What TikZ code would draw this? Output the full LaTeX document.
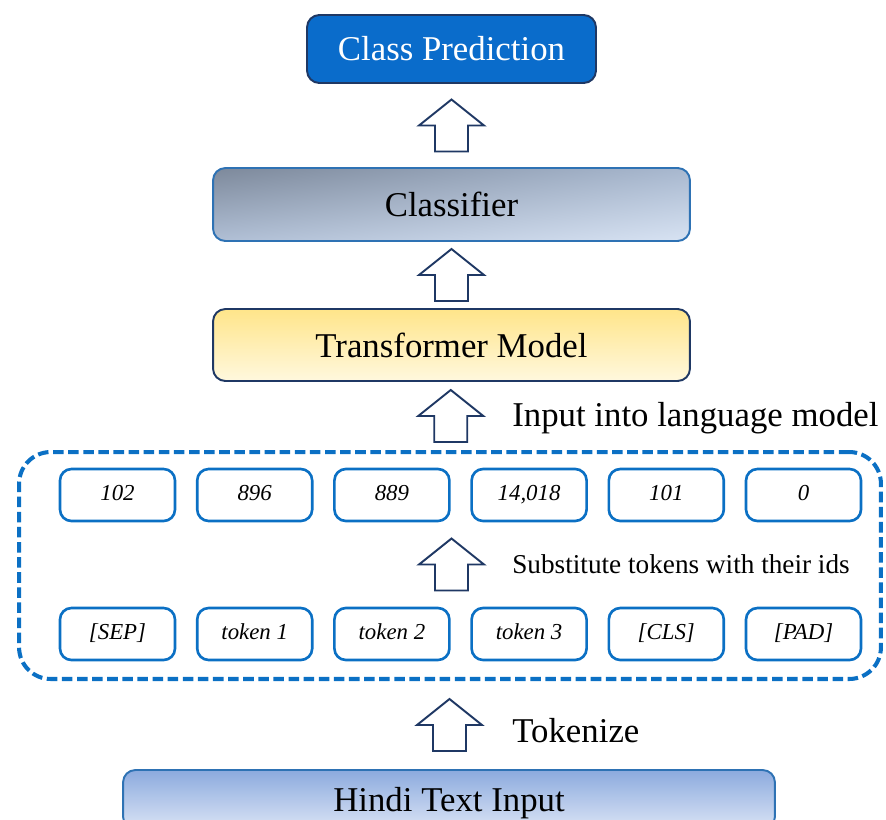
\documentclass[tikz,border=0pt]{standalone}
\usepackage{fontspec}
\setmainfont{Liberation Serif}
\usetikzlibrary{calc, shadings}
\definecolor{navy}{HTML}{1F3864}
\definecolor{predblue}{HTML}{0A6CCB}
\definecolor{edgeblue}{HTML}{2E72B4}
\definecolor{boxblue}{HTML}{0B70C4}
\definecolor{clsUL}{RGB}{125,137,155}
\definecolor{clsUR}{RGB}{168,184,207}
\definecolor{clsLL}{RGB}{176,191,213}
\definecolor{clsLR}{RGB}{216,227,243}
\definecolor{tfTop}{RGB}{255,229,138}
\definecolor{tfBot}{RGB}{255,248,222}
\definecolor{hinTop}{RGB}{140,170,222}
\definecolor{hinBot}{RGB}{218,228,245}

\begin{document}
\begin{tikzpicture}[x=0.02cm, y=-0.02cm,
  bigbox/.style={rectangle, rounded corners=7pt, line width=1.1pt,
    minimum width=9.54cm, minimum height=1.46cm,
    font=\fontsize{19.8}{23}\selectfont},
  idbox/.style={rectangle, draw=boxblue, fill=white, rounded corners=6.5pt,
    line width=1.5pt, minimum width=2.3cm, minimum height=1.04cm,
    text height=0.8em, text depth=0.15em,
    font=\fontsize{13}{15}\selectfont\itshape},
  steptext/.style={anchor=base west, inner sep=0pt},
  uparrow/.pic={\draw[navy, line width=1.1pt, fill=white, line join=miter]
    (-16.5,26) -- (-16.5,0) -- (-32.5,0) -- (0,-26) -- (32.5,0)
    -- (16.5,0) -- (16.5,26) -- cycle;}]
  \useasboundingbox (0,0) rectangle (886,819);
  \clip (0,0) rectangle (886,819);
  % stacked stages
  \node[bigbox, draw=navy, fill=predblue, text=white, minimum width=5.78cm,
    minimum height=1.36cm] (pred) at (451.5,49) {Class Prediction};
  \node[bigbox, draw=edgeblue, upper left=clsUL, upper right=clsUR,
    lower left=clsLL, lower right=clsLR] (cls) at (451.5,204.5) {Classifier};
  \node[bigbox, draw=navy, top color=tfTop, bottom color=tfBot,
    minimum height=1.44cm] (tf) at (451.5,345) {Transformer Model};
  % tokenizer group
  \node[draw=boxblue, line width=2.3pt, dash pattern=on 6pt off 2.6pt,
    rounded corners=18pt, minimum width=17.24cm, minimum height=4.54cm]
    (grp) at (450,565.5) {};
  \foreach \v [count=\i] in {102,896,889,{14,018},101,0}
    \node[idbox] (id\i) at ({117.5+137.2*(\i-1)},495) {\v};
  \foreach \v [count=\i] in {{[SEP]},{token 1},{token 2},{token 3},{[CLS]},{[PAD]}}
    \node[idbox] (tok\i) at ({117.5+137.2*(\i-1)},634) {\v};
  \node[bigbox, draw=edgeblue, top color=hinTop, bottom color=hinBot,
    minimum width=13.04cm, minimum height=1.18cm, text depth=0pt]
    (hin) at (449,799.5) {Hindi Text Input};
  % block arrows between stages
  \pic (arr1) at ($(pred.south)!0.5!(cls.north)$) {uparrow};
  \pic (arr2) at ($(cls.south)!0.5!(tf.north)$) {uparrow};
  \pic (arr3) at ($(tf.south)!0.5!(grp.north)$) {uparrow};
  \pic (arr4) at ($(tf.south |- id4.south)!0.5!(tf.south |- tok4.north)$) {uparrow};
  \pic (arr5) at ($(grp.south)!0.5!(hin.north)$) {uparrow};
  % step labels
  \node[steptext, font=\fontsize{19.8}{23}\selectfont] (lblin) at (512,426) {Input into language model};
  \node[steptext, font=\fontsize{15.5}{18}\selectfont] (lblsub) at (512,573) {Substitute tokens with their ids};
  \node[steptext, font=\fontsize{19.8}{23}\selectfont] (lbltok) at (512,742) {Tokenize};
\end{tikzpicture}
\end{document}
